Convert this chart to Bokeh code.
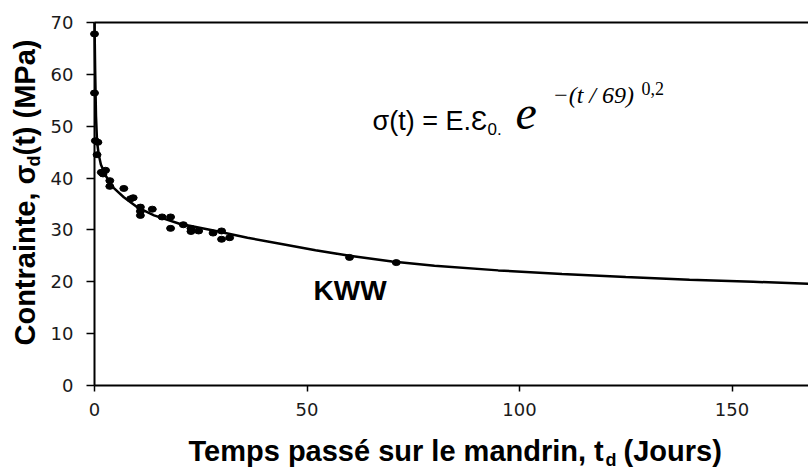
import math
from bokeh.plotting import figure
from bokeh.models import Label, FixedTicker, LinearAxis
from bokeh.embed import file_html
from bokeh.resources import INLINE

# ---- data ----
t_points = [0.0, 0.0, 0.2, 0.8, 0.6, 1.6, 2.6, 2.0, 3.6, 3.6, 6.9, 8.5, 9.1, 10.8, 10.8,
            10.8, 13.6, 15.9, 17.9, 17.9, 20.9, 22.7, 22.7, 24.5, 27.9, 29.9, 29.9, 31.8,
            60.0, 71.0]
sigma_points = [67.8, 56.4, 47.2, 46.9, 44.5, 41.1, 41.5, 40.8, 39.5, 38.4, 38.0, 36.0, 36.2,
                34.4, 33.6, 32.8, 34.0, 32.5, 32.5, 30.3, 31.0, 30.3, 29.7, 29.8, 29.4,
                29.8, 28.2, 28.5, 24.7, 23.7]

t_fit = [0.02, 0.05, 0.15, 0.35, 0.6, 1.0, 1.5, 2.6, 4.5, 6.9, 10.0, 14.0, 20.0, 28.0, 36.0,
         44.0, 52.0, 60.0, 70.0, 80.0, 95.0, 110.0, 125.0, 140.0, 155.0, 168.0]
sigma_fit = [70.0, 67.0, 61.0, 52.0, 47.0, 44.5, 42.6, 40.5, 38.1, 36.3, 34.4, 32.8, 31.2,
             29.9, 28.5, 27.3, 26.1, 25.0, 23.9, 23.1, 22.2, 21.5, 20.9, 20.4, 20.0, 19.6]

x_ticks = [0, 50, 100, 150]
y_ticks = [0, 10, 20, 30, 40, 50, 60, 70]

X_MAX = 168
Y_MAX = 70

# ---- geometry (page pixels) ----
W, H = 808, 470
FRAME_L, FRAME_R, FRAME_T, FRAME_B = 94, 808, 22, 385
sx = (FRAME_R - FRAME_L) / X_MAX
sy = (FRAME_B - FRAME_T) / Y_MAX

def dx(px):
    return (px - FRAME_L) / sx

def dy(py):
    return (FRAME_B - py) / sy

p = figure(width=W, height=H, x_range=(dx(0), dx(W)), y_range=(dy(H), dy(0)),
           output_backend="svg", toolbar_location=None,
           min_border_left=0, min_border_right=0, min_border_top=0, min_border_bottom=0)
p.background_fill_color = "white"
p.border_fill_color = "white"
p.outline_line_color = None
p.xgrid.visible = False
p.ygrid.visible = False

xa = p.xaxis[0]
ya = p.yaxis[0]
xa.fixed_location = 0
ya.fixed_location = 0
xa.bounds = (0, X_MAX)
ya.bounds = (0, Y_MAX)
for ax in (xa, ya):
    ax.axis_line_color = "black"
    ax.axis_line_width = 2
    ax.major_tick_line_color = "black"
    ax.major_tick_line_width = 1.5
    ax.minor_tick_line_color = None
    ax.major_tick_in = 0
    ax.major_label_text_font = "DejaVu Sans"
    ax.major_label_text_font_size = "18px"
    ax.major_label_text_color = "#1a1a1a"
xa.ticker = FixedTicker(ticks=x_ticks)
ya.ticker = FixedTicker(ticks=y_ticks)
xa.major_tick_out = 6
ya.major_tick_out = 8
xa.major_label_standoff = 11
ya.major_label_standoff = 13

top = LinearAxis(fixed_location=Y_MAX, bounds=(0, X_MAX), ticker=FixedTicker(ticks=[]),
                 axis_line_color="black", axis_line_width=2,
                 major_tick_line_color=None, minor_tick_line_color=None,
                 major_label_text_font_size="0px")
p.add_layout(top, "above")

p.line(t_fit, sigma_fit, line_color="black", line_width=2.5)
p.ellipse(t_points, sigma_points, width=8, height=6, width_units="screen",
          height_units="screen", fill_color="black", line_color="black")

SHIFT = 0.35  # rendered baseline sits about this many em below the anchor

def lab(text, px, py, size, font="Liberation Sans", style="normal", rotated=False):
    s = SHIFT * size
    if rotated:
        ax_, ay_, angle = px - s, py, math.pi / 2
    else:
        ax_, ay_, angle = px, py - s, 0.0
    p.add_layout(Label(x=dx(ax_), y=dy(ay_), text=text, text_font=font,
                       text_font_size=f"{size}px", text_font_style=style,
                       text_color="black", text_align="left",
                       text_baseline="alphabetic", angle=angle))

# x axis title (baseline in page pixels)
lab("Temps passé sur le mandrin, t", 188, 461, 29, style="bold")
lab("d", 605, 466, 18, style="bold")
lab("(Jours)", 623, 461, 29, style="bold")

# y axis title (rotated; baseline x in page pixels)
lab("Contrainte, σ", 35, 345, 29, style="bold", rotated=True)
lab("d", 40, 166, 18, style="bold", rotated=True)
lab("(t)  (MPa)", 35, 155, 29, style="bold", rotated=True)

# KWW label
lab("KWW", 313, 300, 28, style="bold")

# equation
lab("σ(t) = E.Ɛ", 372, 130, 27)
lab("0.", 487, 134, 17)
lab("e", 515, 129, 48, font="Liberation Serif", style="italic")
lab("−(t / 69)", 552, 103, 24, font="Liberation Serif", style="italic")
lab("0,2", 641, 94, 18, font="Liberation Serif")

open("out.html", "w").write(file_html(p, INLINE))
